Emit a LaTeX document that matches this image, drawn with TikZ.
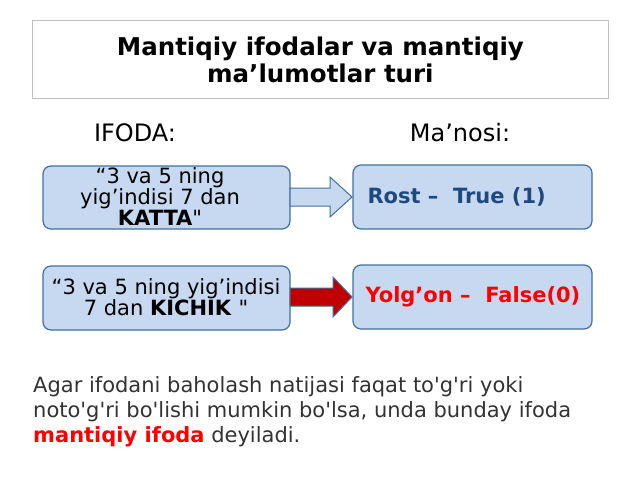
\documentclass[tikz,border=0pt]{standalone}
\usepackage{fontspec}
\setmainfont{DejaVu Sans}
\newfontfamily\plainf{DejaVu Sans}
\definecolor{boxfill}{HTML}{C6D9F1}
\definecolor{boxline}{HTML}{41719C}
\definecolor{darkred}{HTML}{C00000}
\definecolor{navy}{HTML}{1F497D}
\begin{document}
\begin{tikzpicture}[x=1pt,y=-1pt,
  bx/.style={draw=boxline,line width=1.2pt,fill=boxfill,rounded corners=8pt},
  txt/.style={font=\plainf\fontsize{21}{21}\selectfont,align=center}]
\useasboundingbox (0,0) rectangle (640,480);
\fill[white] (0,0) rectangle (640,480);
\node[draw=black!25,line width=0.8pt,minimum width=576pt,minimum height=78pt,anchor=north west,font=\bfseries\fontsize{24.5}{27}\selectfont,align=center] (title) at (32,20) {Mantiqiy ifodalar va mantiqiy\\ma’lumotlar turi};
\node[font=\fontsize{24}{24}\selectfont] (h1) at (135,133) {IFODA:};
\node[font=\fontsize{24}{24}\selectfont] (h2) at (460,133) {Ma’nosi:};
\draw[bx] (43,166) rectangle (290,229);
\node[txt] (b1) at (160,197) {“3 va 5 ning\\yig’indisi 7 dan\\\textbf{KATTA}"};
\draw[bx] (353,165) rectangle (592,229);
\node[font=\bfseries\fontsize{21}{21}\selectfont,text=navy,anchor=west] (b2) at (364,197) {Rost –\ \ True (1)};
\draw[bx] (43,266) rectangle (290,330);
\node[txt] (b3) at (166,297) {“3 va 5 ning yig’indisi\\7 dan \textbf{KICHIK} "};
\draw[bx] (353,265) rectangle (592,329);
\node[font=\bfseries\fontsize{21}{21}\selectfont,text=red,anchor=west] (b4) at (362,297) {Yolg’on –\ \ False(0)};
\draw[boxline,line width=1pt,fill=boxfill] (290,188)--(330,188)--(330,177)--(352,197)--(330,217)--(330,206)--(290,206)--cycle;
\draw[boxline,line width=1pt,fill=darkred] (290,288)--(333,288)--(333,277)--(352,297)--(333,317)--(333,306)--(290,306)--cycle;
\node[anchor=west,font=\plainf\fontsize{21}{25}\selectfont,align=left,text=black!80,inner sep=0pt] (p) at (33,412) {Agar ifodani baholash natijasi faqat to'g'ri yoki\\noto'g'ri bo'lishi mumkin bo'lsa, unda bunday ifoda\\\textcolor{red}{\textbf{mantiqiy ifoda}} deyiladi.};
\end{tikzpicture}
\end{document}
